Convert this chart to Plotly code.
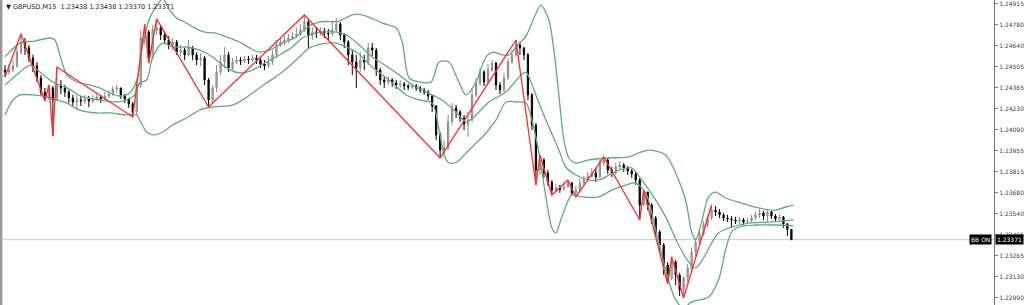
import plotly.graph_objects as go

# ---- price data in points (1 point = 0.00001) ----
open_first = 124482
close_pts = [
    124469, 124482, 124509, 124600, 124666, 124627, 124561, 124509, 124430, 124338,
    124299, 124365, 124286, 124384, 124365, 124338, 124299, 124273, 124286, 124279,
    124293, 124279, 124293, 124306, 124293, 124312, 124325, 124358, 124365, 124319,
    124293, 124260, 124207, 124384, 124692, 124731, 124561, 124744, 124758, 124712,
    124679, 124646, 124666, 124600, 124613, 124581, 124627, 124581, 124548, 124561,
    124417, 124286, 124365, 124469, 124535, 124581, 124496, 124535, 124548, 124541,
    124555, 124548, 124561, 124548, 124522, 124509, 124535, 124581, 124646, 124666,
    124679, 124692, 124705, 124718, 124744, 124797, 124705, 124731, 124725, 124738,
    124725, 124718, 124744, 124784, 124712, 124666, 124581, 124535, 124496, 124548,
    124535, 124627, 124613, 124482, 124417, 124404, 124417, 124397, 124384, 124391,
    124378, 124371, 124378, 124365, 124351, 124338, 124312, 124247, 124057, 123958,
    123972, 124142, 124234, 124207, 124168, 124129, 124155, 124319, 124397, 124469,
    124404, 124482, 124528, 124384, 124351, 124430, 124535, 124581, 124646, 124627,
    124581, 124319, 124122, 123827, 123893, 123808, 123749, 123696, 123710, 123703,
    123716, 123742, 123677, 123696, 123742, 123762, 123788, 123808, 123782, 123873,
    123893, 123827, 123808, 123847, 123860, 123841, 123821, 123801, 123762, 123598,
    123683, 123598, 123513, 123421, 123336, 123205, 123120, 123225, 123140, 123041,
    123120, 123186, 123290, 123356, 123408, 123467, 123513, 123565, 123552, 123533,
    123513, 123507, 123500, 123493, 123500, 123487, 123493, 123513, 123533, 123546,
    123526, 123552, 123526, 123507, 123520, 123474, 123438, 123371,
]
high_pts = [
    124515, 124522, 124548, 124646, 124718, 124692, 124646, 124581, 124535, 124450,
    124365, 124384, 124378, 124502, 124417, 124384, 124351, 124319, 124319, 124312,
    124319, 124312, 124319, 124332, 124319, 124338, 124351, 124378, 124384, 124365,
    124325, 124299, 124273, 124417, 124744, 124784, 124744, 124777, 124817, 124777,
    124731, 124705, 124692, 124679, 124646, 124627, 124679, 124640, 124600, 124594,
    124574, 124430, 124384, 124515, 124581, 124633, 124600, 124561, 124574, 124568,
    124574, 124574, 124581, 124581, 124561, 124548, 124574, 124613, 124679, 124692,
    124705, 124718, 124731, 124758, 124784, 124843, 124810, 124764, 124758, 124764,
    124758, 124751, 124797, 124823, 124797, 124725, 124679, 124613, 124581, 124600,
    124581, 124659, 124659, 124627, 124496, 124437, 124443, 124430, 124417, 124417,
    124404, 124391, 124397, 124391, 124378, 124365, 124351, 124319, 124253, 124076,
    124024, 124188, 124266, 124253, 124220, 124188, 124207, 124365, 124430, 124496,
    124482, 124522, 124548, 124535, 124404, 124463, 124561, 124613, 124679, 124666,
    124633, 124594, 124332, 124135, 123926, 123906, 123827, 123762, 123736, 123729,
    123742, 123762, 123749, 123723, 123769, 123788, 123814, 123841, 123841, 123893,
    123913, 123906, 123847, 123873, 123886, 123873, 123854, 123834, 123814, 123775,
    123696, 123683, 123611, 123526, 123434, 123349, 123225, 123258, 123238, 123153,
    123133, 123212, 123317, 123382, 123434, 123493, 123533, 123598, 123592, 123572,
    123546, 123533, 123526, 123520, 123520, 123513, 123513, 123533, 123552, 123572,
    123559, 123572, 123559, 123539, 123539, 123526, 123480, 123438,
]
low_pts = [
    124437, 124450, 124469, 124496, 124581, 124581, 124535, 124469, 124404, 124312,
    124279, 124286, 124050, 124286, 124325, 124306, 124266, 124247, 124234, 124247,
    124260, 124240, 124266, 124279, 124266, 124286, 124299, 124312, 124332, 124293,
    124266, 124234, 124175, 124181, 124365, 124646, 124528, 124548, 124712, 124679,
    124653, 124620, 124613, 124581, 124574, 124548, 124574, 124548, 124515, 124509,
    124384, 124240, 124260, 124338, 124450, 124496, 124469, 124482, 124522, 124515,
    124528, 124522, 124535, 124522, 124496, 124482, 124496, 124515, 124561, 124633,
    124646, 124659, 124679, 124692, 124705, 124731, 124627, 124679, 124692, 124705,
    124692, 124679, 124705, 124731, 124679, 124627, 124515, 124450, 124365, 124469,
    124482, 124515, 124574, 124443, 124384, 124365, 124384, 124371, 124358, 124365,
    124351, 124351, 124358, 124345, 124332, 124319, 124286, 124207, 124024, 123906,
    123919, 123958, 124122, 124168, 124142, 124089, 124044, 124142, 124306, 124378,
    124378, 124391, 124469, 124351, 124325, 124338, 124417, 124522, 124568, 124581,
    124548, 124286, 124089, 123729, 123795, 123775, 123723, 123664, 123683, 123677,
    123690, 123716, 123657, 123651, 123683, 123729, 123749, 123775, 123749, 123775,
    123854, 123801, 123782, 123795, 123827, 123814, 123795, 123775, 123729, 123500,
    123592, 123565, 123474, 123389, 123303, 123140, 123081, 123107, 123074, 123002,
    122989, 123094, 123172, 123264, 123343, 123395, 123448, 123500, 123526, 123513,
    123493, 123487, 123448, 123474, 123474, 123467, 123474, 123480, 123500, 123513,
    123500, 123487, 123507, 123487, 123493, 123448, 123395, 123370,
]

# ---- Bollinger bands (bar index, points) ----
upper_idx = [0, 3.75, 7.5, 11.25, 12.5, 13.75, 15.5, 18, 21.25, 23.75, 26.25, 28.75, 31.25, 33, 34.5,
             36.25, 38, 39.5, 41.25, 43, 45, 47.5, 50, 52.5, 55.5, 58.75, 61.25, 63.75, 66.25, 69.5,
             73, 75.5, 78.75, 83.75, 86.25, 88, 90.5, 94.5, 98, 99.5, 101.25, 103.75, 106.75, 108.75,
             111.25, 113.25, 115.5, 118, 120.5, 122.5, 124.5, 126.25, 128, 130.5, 132.5, 134.25,
             136.25, 137.5, 138.75, 140, 141.25, 143, 146.25, 151.25, 156.25, 158.75, 161.25, 165.5,
             168, 170.5, 172, 173, 174.5, 176.25, 178, 180.5, 184.5, 188.75, 193, 195.5, 197.5]
upper_pts = [124568, 124659, 124672, 124692, 124679, 124581, 124450, 124404, 124384, 124365, 124332,
             124312, 124332, 124417, 124646, 124823, 124902, 124950, 124875, 124823, 124797, 124758,
             124731, 124725, 124699, 124666, 124627, 124600, 124613, 124659, 124699, 124758, 124797,
             124803, 124836, 124849, 124836, 124790, 124758, 124666, 124430, 124404, 124404, 124535,
             124535, 124430, 124319, 124404, 124568, 124600, 124581, 124581, 124633, 124705, 124823,
             124908, 124810, 124613, 124319, 124024, 123906, 123873, 123893, 123906, 123913, 123939,
             123958, 123926, 123808, 123631, 123421, 123369, 123487, 123651, 123683, 123644, 123611,
             123579, 123565, 123585, 123598]
middle_idx = [0, 3.75, 6.25, 8.75, 12, 15.5, 19.5, 23.75, 27, 30.5, 32.5, 33.75, 35.5, 37, 39.5, 42,
              45.5, 48.75, 52, 55.5, 58.75, 62, 65.5, 68.75, 72, 74.5, 78, 83, 85.5, 88.75, 92, 95.5,
              98.75, 102, 105.5, 109.5, 113, 115.5, 118, 121.25, 125.5, 127.5, 129.25, 130.5, 131.75,
              133.75, 136.25, 138.75, 140.5, 143, 146.25, 148.75, 153.75, 157, 159.5, 163, 165.5,
              168.75, 171.25, 173, 175, 176.75, 178.75, 182, 186.25, 192, 197.5]
middle_pts = [124384, 124469, 124515, 124469, 124404, 124365, 124306, 124286, 124273, 124286, 124319,
              124397, 124417, 124568, 124659, 124633, 124633, 124613, 124568, 124496, 124463, 124482,
              124535, 124581, 124633, 124692, 124725, 124731, 124712, 124646, 124568, 124509, 124450,
              124384, 124338, 124286, 124207, 124142, 124188, 124273, 124338, 124397, 124450, 124469,
              124404, 124266, 124109, 123958, 123847, 123795, 123762, 123762, 123827, 123841, 123762,
              123631, 123520, 123336, 123225, 123186, 123251, 123336, 123415, 123454, 123480, 123487,
              123500]
lower_idx = [0, 2, 3.75, 7, 10.5, 13, 15.5, 18.75, 23, 26.25, 30.5, 33, 33.75, 35.5, 37.5, 39.5, 42,
             45.5, 48.75, 52, 57, 59.5, 63, 65.5, 69.5, 73.75, 76.25, 80.5, 83, 85.5, 88, 92, 96.25,
             100.5, 103.75, 107, 108.75, 110, 111.25, 113.25, 115.5, 118, 120.5, 123, 125.5, 128,
             130.5, 132, 133.75, 135.5, 137, 138, 139.5, 142, 144.5, 148.75, 152, 155.5, 158, 160.5,
             163, 165.5, 168, 170, 172, 176.25, 178.75, 180.5, 182, 183.75, 188, 193, 197.5]
lower_pts = [124188, 124286, 124319, 124319, 124306, 124286, 124266, 124220, 124201, 124201, 124188,
             124188, 124155, 124076, 124057, 124076, 124122, 124168, 124220, 124240, 124253, 124286,
             124351, 124397, 124469, 124568, 124627, 124659, 124659, 124633, 124600, 124502, 124417,
             124319, 124286, 124266, 124089, 123926, 123873, 123880, 123939, 124004, 124070, 124155,
             124273, 124273, 124266, 124155, 123939, 123651, 123448, 123415, 123520, 123664, 123651,
             123651, 123696, 123729, 123742, 123677, 123434, 123172, 122976, 122924, 122963, 122996,
             123107, 123303, 123421, 123454, 123467, 123467, 123461]

# ---- ZigZag pivots (bar index, points) ----
zz_idx = [0, 4, 10, 11, 12, 13, 32, 35, 36, 38, 51, 75, 109, 128, 133, 134, 137, 141, 143, 150,
          159, 160, 166, 167, 170, 177]
zz_pts = [124437, 124718, 124279, 124384, 124050, 124502, 124175, 124784, 124528, 124817, 124240,
          124843, 123906, 124679, 123729, 123926, 123664, 123762, 123651, 123913, 123500, 123696,
          123081, 123258, 122989, 123598]

tick_labels = ["1.24915", "1.24780", "1.24640", "1.24505", "1.24365", "1.24230", "1.24090",
               "1.23955", "1.23815", "1.23680", "1.23540", "1.23405", "1.23265", "1.23130", "1.22990"]
header_text = "▼ GBPUSD,M15  1.23438 1.23438 1.23370 1.23371"
last_price = "1.23371"

P = 1e5
closes = [v / P for v in close_pts]
opens = [open_first / P] + closes[:-1]
highs = [max(h / P, o, c) for h, o, c in zip(high_pts, opens, closes)]
lows = [min(l / P, o, c) for l, o, c in zip(low_pts, opens, closes)]
bars = list(range(len(closes)))

fig = go.Figure()
fig.add_trace(go.Candlestick(
    x=bars, open=opens, high=highs, low=lows, close=closes,
    increasing=dict(line=dict(color="#8a8a8a", width=1), fillcolor="#c4c4c4"),
    decreasing=dict(line=dict(color="#000000", width=1), fillcolor="#111111"),
    whiskerwidth=0, hoverinfo="skip", showlegend=False,
))
band_style = dict(color="#5fab7c", width=1.3, shape="spline", smoothing=0.8)
for xi, yp in ((upper_idx, upper_pts), (middle_idx, middle_pts), (lower_idx, lower_pts)):
    fig.add_trace(go.Scatter(x=xi, y=[v / P for v in yp], mode="lines",
                             line=band_style, hoverinfo="skip", showlegend=False))
fig.add_trace(go.Scatter(x=zz_idx, y=[v / P for v in zz_pts], mode="lines",
                         line=dict(color="#ff2a2a", width=1.3), hoverinfo="skip", showlegend=False))

tick_vals = [float(t) for t in tick_labels]
fig.update_layout(
    width=1024, height=305,
    margin=dict(l=3, r=28, t=0, b=0),
    paper_bgcolor="white", plot_bgcolor="white",
    boxgap=0.55,
    font=dict(family="DejaVu Sans", size=6, color="#333"),
    xaxis=dict(range=[-0.5, 247.75], visible=False, rangeslider=dict(visible=False), fixedrange=True),
    yaxis=dict(range=[1.22943, 1.24941], side="right", showgrid=False, zeroline=False,
               showline=True, linecolor="#777", linewidth=1, ticks="outside", ticklen=3,
               tickcolor="#777", tickvals=tick_vals, ticktext=tick_labels,
               tickfont=dict(family="DejaVu Sans", size=6, color="#444")),
    shapes=[
        dict(type="line", xref="paper", yref="y", x0=0, x1=1, y0=float(last_price), y1=float(last_price),
             line=dict(color="#c8c8c8", width=1), layer="below"),
        dict(type="rect", xref="paper", yref="paper", x0=-3 / 993, x1=-0.6 / 993, y0=0, y1=1,
             line=dict(width=0), fillcolor="#9a9a9a"),
    ],
    annotations=[
        dict(text=header_text, xref="paper", yref="paper", x=0.001, y=1, xanchor="left", yanchor="top",
             showarrow=False, font=dict(family="DejaVu Sans", size=6.5, color="#222"), yshift=-1),
        dict(text="BB ON", xref="paper", yref="y", x=0.9975, y=float(last_price), xanchor="right",
             yanchor="middle", showarrow=False, bgcolor="#000", borderpad=1,
             font=dict(family="DejaVu Sans", size=6, color="white")),
        dict(text=last_price, xref="paper", yref="y", x=1.001, y=float(last_price), xanchor="left",
             yanchor="middle", showarrow=False, bgcolor="#000", borderpad=1,
             font=dict(family="DejaVu Sans", size=6, color="white")),
    ],
)

fig.write_html("out.html")
